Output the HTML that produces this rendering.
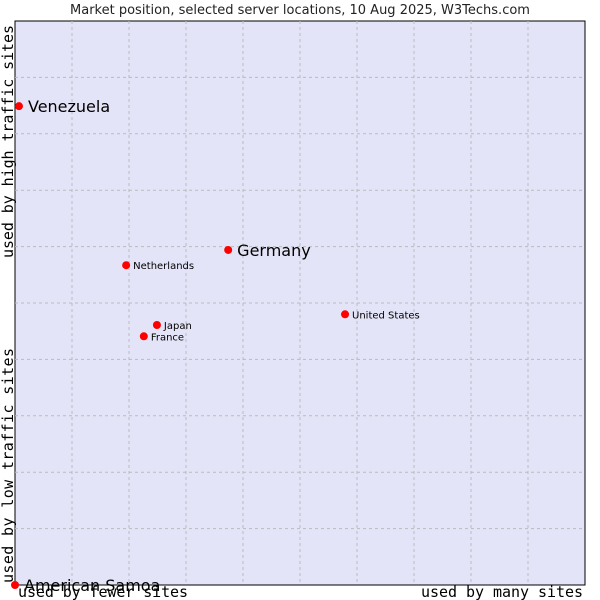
<!DOCTYPE html>
<html><head><meta charset="utf-8"><style>
body{margin:0;background:#fff;width:600px;height:600px;overflow:hidden}
svg{display:block}
</style></head><body>
<svg id="chart" width="600" height="600">
<rect x="0" y="0" width="600" height="600" fill="#fff"/>
<text x="300" y="14" text-anchor="middle" font-family="DejaVu Sans, sans-serif" font-size="13" fill="#222">Market position, selected server locations, 10 Aug 2025, W3Techs.com</text>
<rect x="15" y="21" width="570" height="564" fill="#e4e4f8" stroke="#000" stroke-width="1"/>
<g id="grid"></g>
<g id="marks"></g>
<text x="18" y="597" textLength="170" lengthAdjust="spacing" font-family="DejaVu Sans Mono, monospace" font-size="15" fill="#000">used by fewer sites</text>
<text x="421" y="597" textLength="162" lengthAdjust="spacing" font-family="DejaVu Sans Mono, monospace" font-size="15" fill="#000">used by many sites</text>
<text transform="translate(13,583) rotate(-90)" textLength="235" lengthAdjust="spacing" font-family="DejaVu Sans Mono, monospace" font-size="15" fill="#000">used by low traffic sites</text>
<text transform="translate(13,258) rotate(-90)" textLength="233" lengthAdjust="spacing" font-family="DejaVu Sans Mono, monospace" font-size="15" fill="#000">used by high traffic sites</text>
</svg>
<script>
const countries = ["Venezuela","Germany","Netherlands","United States","Japan","France","American Samoa"];
const xValues = [0.7,37.4,19.5,57.9,24.9,22.6,0];
const yValues = [84.9,59.4,56.7,48.0,46.1,44.1,0];
const highlighted = [true,true,false,false,false,false,true];
const gridSteps = [1,2,3,4,5,6,7,8,9];

const L=15,R=585,T=21,B=585;
const sx=v=>L+(R-L)*v/100;
const sy=v=>B-(B-T)*v/100;
const NS="http://www.w3.org/2000/svg";
const grid=document.getElementById('grid');
gridSteps.forEach(s=>{
  const v=document.createElementNS(NS,'line');
  v.setAttribute('x1',sx(s*10));v.setAttribute('x2',sx(s*10));v.setAttribute('y1',T);v.setAttribute('y2',B);
  v.setAttribute('stroke','#bbb');v.setAttribute('stroke-dasharray','3,3');
  
  
  grid.appendChild(v);
  const h=document.createElementNS(NS,'line');
  h.setAttribute('y1',sy(s*10));h.setAttribute('y2',sy(s*10));h.setAttribute('x1',L);h.setAttribute('x2',R);
  h.setAttribute('stroke','#bbb');h.setAttribute('stroke-dasharray','3,3');
  
  
  grid.appendChild(h);
});
const marks=document.getElementById('marks');
countries.forEach((c,i)=>{
  const x=sx(xValues[i]),y=sy(yValues[i]);
  const p=document.createElementNS(NS,'circle');
  p.setAttribute('cx',x);p.setAttribute('cy',y);p.setAttribute('r',4);p.setAttribute('fill','#f00');
  
  
  marks.appendChild(p);
  const t=document.createElementNS(NS,'text');
  const big=highlighted[i];
  t.setAttribute('x',x+(big?9:7));t.setAttribute('y',y+(big?6:4));
  t.setAttribute('font-family','DejaVu Sans, sans-serif');
  t.setAttribute('font-size',big?16:10);t.setAttribute('fill','#000');
  t.textContent=c;
  
  
  marks.appendChild(t);
});
</script>
</body></html>
